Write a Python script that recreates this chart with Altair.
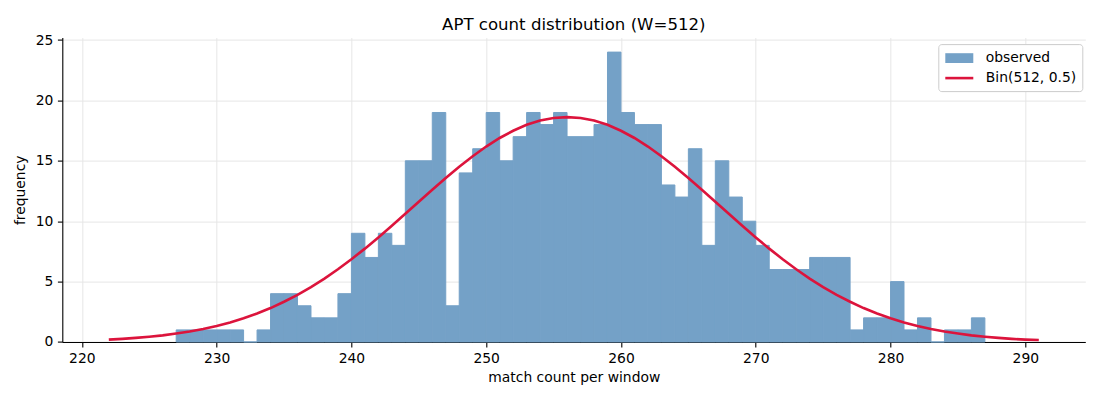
import altair as alt
import pandas as pd

# histogram bins (left edges, width 1) and observed counts
bin_left = list(range(227, 287))
counts = [1, 1, 1, 1, 1, 0, 1, 4, 4, 3,
          2, 2, 4, 9, 7, 9, 8, 15, 15, 19,
          3, 14, 16, 19, 15, 17, 19, 18, 19, 17,
          17, 18, 24, 19, 18, 18, 13, 12, 16, 8,
          15, 12, 10, 8, 6, 6, 6, 7, 7, 7,
          1, 2, 2, 5, 1, 2, 0, 1, 1, 2]

# expected curve Bin(512, 0.5) scaled to the sample size, read at k = 222..291
curve_k = list(range(222, 292))
curve_freq = [0.20, 0.26, 0.34, 0.44, 0.55, 0.70, 0.87, 1.08, 1.33, 1.62,
              1.96, 2.36, 2.81, 3.33, 3.90, 4.55, 5.25, 6.02, 6.85, 7.73,
              8.66, 9.62, 10.61, 11.61, 12.60, 13.57, 14.50, 15.38, 16.18, 16.89,
              17.49, 17.98, 18.33, 18.55, 18.62, 18.55, 18.33, 17.98, 17.49, 16.89,
              16.18, 15.38, 14.50, 13.57, 12.60, 11.61, 10.61, 9.62, 8.66, 7.73,
              6.85, 6.02, 5.25, 4.55, 3.90, 3.33, 2.81, 2.36, 1.96, 1.62,
              1.33, 1.08, 0.87, 0.70, 0.55, 0.44, 0.34, 0.26, 0.20, 0.16]

series_names = ["observed", "Bin(512, 0.5)"]
bar_fill = "#74a1c7"
line_color = "#dc143c"
x_ticks = [220, 230, 240, 250, 260, 270, 280, 290]
y_ticks = [0, 5, 10, 15, 20, 25]

bars_df = pd.DataFrame({
    "lo": bin_left,
    "hi": [b + 1 for b in bin_left],
    "count": counts,
    "series": series_names[0],
})
line_df = pd.DataFrame({"k": curve_k, "freq": curve_freq, "series": series_names[1]})

FONT = "DejaVu Sans"
SHAPE_EXPR = "datum.value === 'observed' ? 'M-1,-0.7H3V0.7H-1Z' : 'M-1,0H3'"

fill_scale = alt.Scale(domain=series_names, range=[bar_fill, "transparent"])
stroke_scale = alt.Scale(domain=series_names, range=["transparent", line_color])


def make_legend(use_expr):
    kw = dict(
        title=None,
        orient="none",
        legendX=876,
        legendY=6.5,
        padding=5.5,
        fillColor="white",
        strokeColor="#cccccc",
        cornerRadius=3,
        labelFont=FONT,
        labelFontSize=13.9,
        labelColor="black",
        labelOffset=25,
        rowPadding=1,
        symbolSize=196,
        symbolStrokeWidth=2.6,
        symbolOpacity=1,
    )
    if use_expr:
        kw["symbolType"] = alt.ExprRef(expr=SHAPE_EXPR)
    return alt.Legend(**kw)


def build(use_expr, title_text):
    legend = make_legend(use_expr)
    x_scale = alt.Scale(domain=[218.55, 294.45], nice=False, zero=False)
    y_scale = alt.Scale(domain=[0, 25.2], nice=False)
    x_axis = alt.Axis(values=x_ticks, title="match count per window", format="d")
    y_axis = alt.Axis(values=y_ticks, title="frequency", format="d")

    bars = alt.Chart(bars_df).mark_bar(stroke=bar_fill, strokeWidth=1).encode(
        x=alt.X("lo:Q", scale=x_scale, axis=x_axis),
        x2="hi:Q",
        y=alt.Y("count:Q", scale=y_scale, axis=y_axis),
        y2=alt.datum(0),
        fill=alt.Fill("series:N", scale=fill_scale, legend=legend),
    )
    line = alt.Chart(line_df).mark_line(strokeWidth=2.6).encode(
        x=alt.X("k:Q", scale=x_scale, axis=x_axis),
        y=alt.Y("freq:Q", scale=y_scale, axis=y_axis),
        stroke=alt.Stroke("series:N", scale=stroke_scale, legend=legend),
    )
    return alt.layer(bars, line).properties(
        width=1023,
        height=304.4,
        autosize=alt.AutoSizeParams(type="none"),
        padding={"left": 54.3, "top": 29.6, "right": 6, "bottom": 50},
        title=alt.Title(
            title_text,
            font=FONT,
            fontSize=16.6,
            fontWeight="normal",
            color="black",
            anchor="middle",
            offset=-1,
        ),
    ).configure_view(
        stroke=None
    ).configure_axis(
        labelFont=FONT,
        titleFont=FONT,
        labelFontSize=13.9,
        titleFontSize=13.9,
        titleFontWeight="normal",
        labelColor="black",
        titleColor="black",
        domainColor="black",
        domainWidth=1.1,
        tickColor="black",
        tickWidth=1.1,
        tickSize=4.9,
        labelPadding=4.5,
        gridColor="#e6e6e6",
        gridWidth=1,
    ).configure_axisX(
        titlePadding=5,
    ).configure_axisY(
        titlePadding=8,
    )


try:
    chart = build(True, "APT count distribution (W=512)")
    chart.to_dict()
except Exception as e:
    msg = str(e).strip().splitlines()
    chart = build(False, "ERR: " + " | ".join(msg[:2])[:150])

chart.save("out.html", embed_options={"renderer": "svg", "actions": False})
